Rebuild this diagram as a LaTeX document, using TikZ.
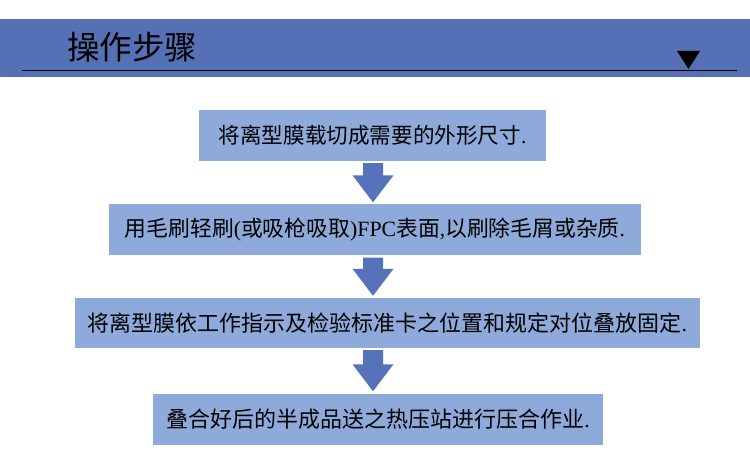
\documentclass[tikz,border=0pt]{standalone}
\usepackage{fontspec}
\setmainfont{Liberation Serif}
\newfontfamily\cjk{Noto Sans CJK SC}
\usetikzlibrary{calc}
\definecolor{bandblue}{RGB}{85,112,181}
\definecolor{boxblue}{RGB}{142,170,219}
\definecolor{arrowblue}{RGB}{86,114,186}
\tikzset{
  stepbox/.style={fill=boxblue, draw=none, inner sep=0pt, text=black, anchor=center},
  flowarrow/.style={fill=arrowblue, draw=none},
}
\newcommand\fsz[1]{\fontsize{#1}{#1}\selectfont}
\newcommand\flowarr[2]{%
  \fill[flowarrow] ($(#1.south -| ax)+(-10,2)$) -- ($(#2.north -| ax)+(-10,-29)$)
    -- ($(#2.north -| ax)+(-20.5,-29)$) -- ($(#2.north -| ax)+(0,-2)$)
    -- ($(#2.north -| ax)+(20.5,-29)$) -- ($(#2.north -| ax)+(10,-29)$)
    -- ($(#1.south -| ax)+(10,2)$) -- cycle;}
\begin{document}
\begin{tikzpicture}[x=1pt,y=-1pt]
\useasboundingbox (0,0) rectangle (750,462);
\fill[white] (0,0) rectangle (750,462);
% header band
\fill[bandblue] (0,19) rectangle (750,77);
\node[anchor=west, inner sep=0pt, font=\cjk\fsz{32.5}] (title) at (67,47.5) {操作步骤};
\coordinate (hl) at (22,70.5);
\coordinate (hr) at (737,70.5);
\draw[black, line width=1.3pt] (hl) -- (hr);
\fill[black] (677,51) -- (700,51) -- (688.5,69) -- cycle;
% boxes
\node[stepbox, minimum width=347, minimum height=51, font=\cjk\fsz{21.6}] (b1) at (372.5,135.5) {将离型膜载切成需要的外形尺寸{\rmfamily .}};
\node[stepbox, minimum width=532, minimum height=51, font=\cjk\fsz{21.8}] (b2) at (375,230) {用毛刷轻刷{\rmfamily (}或吸枪吸取{\rmfamily )FPC}表面{\rmfamily ,}以刷除毛屑或杂质{\rmfamily .}};
\node[stepbox, minimum width=625, minimum height=50, font=\cjk\fsz{22}] (b3) at (387.5,323) {将离型膜依工作指示及检验标准卡之位置和规定对位叠放固定{\rmfamily .}};
\node[stepbox, minimum width=450, minimum height=51, font=\cjk\fsz{22}] (b4) at (378,419) {叠合好后的半成品送之热压站进行压合作业{\rmfamily .}};
% arrows
\coordinate (ax) at (373,0);
\flowarr{b1}{b2}
\flowarr{b2}{b3}
\flowarr{b3}{b4}
\end{tikzpicture}
\end{document}
